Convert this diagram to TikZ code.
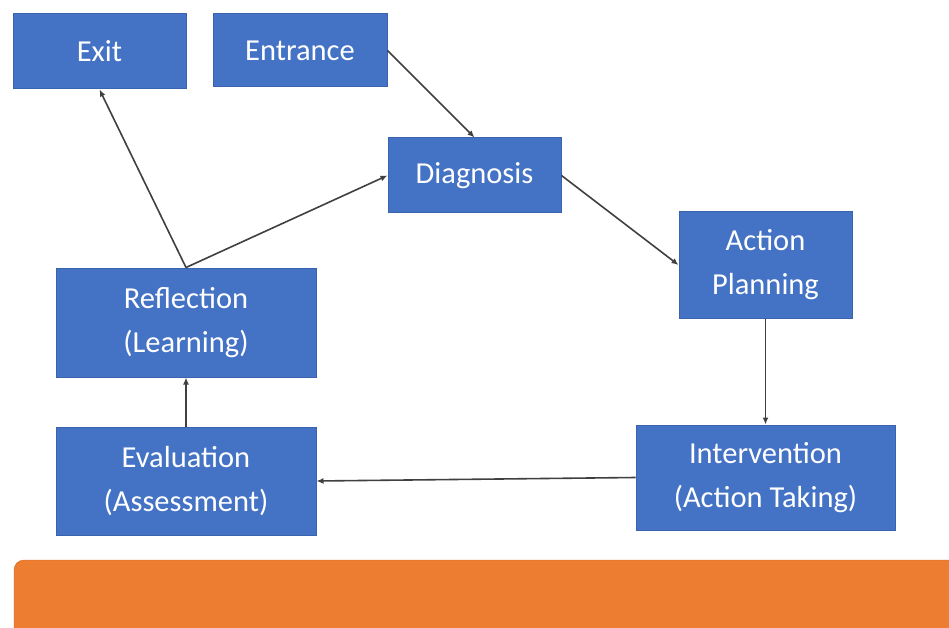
\documentclass[tikz,border=0pt]{standalone}
\usepackage{fontspec}
\setmainfont{Carlito}
\usepackage{tikz}
\usetikzlibrary{arrows.meta}
\definecolor{boxblue}{HTML}{4472C4}
\definecolor{boxedge}{HTML}{3A63AE}
\definecolor{barorange}{HTML}{ED7D31}
\definecolor{lineg}{rgb}{0.25,0.25,0.25}

\begin{document}
\begin{tikzpicture}[x=1pt, y=-1pt, box/.style = {shape=rectangle, draw=boxedge, line width=1pt, align=center, fill=boxblue, text=white, font=\fontsize{30.5}{44}\selectfont, inner sep=0pt}, link/.style = {draw=lineg, line width=1.6pt, -{Latex[length=7pt,width=6pt]}}]
	\useasboundingbox (0,0) rectangle (949,628);
	\fill[white] (0,0) rectangle (949,628);
	\node[box, minimum width=173pt, minimum height=75pt] (exit) at (99.5,51.5) {Exit};
	\node[box, minimum width=174pt, minimum height=73pt] (entr) at (300,50.5) {Entrance};
	\node[box, minimum width=173pt, minimum height=75pt] (diag) at (474.5,175.5) {Diagnosis};
	\node[box, minimum width=173pt, minimum height=106pt] (plan) at (765.5,265) {Action\\Planning};
	\node[box, minimum width=260pt, minimum height=109pt] (refl) at (186,322.5) {Reflection\\(Learning)};
	\node[box, minimum width=260pt, minimum height=108pt] (eval) at (186,481) {Evaluation\\(Assessment)};
	\node[box, minimum width=259pt, minimum height=105pt] (intv) at (765.5,477.5) {Intervention\\(Action Taking)};
	\draw[link] (entr.east) -- (diag.north);
	\draw[link] (diag.east) -- (plan.west);
	\draw[link] (plan.south) -- (intv.north);
	\draw[link] (intv.west) -- (eval.east);
	\draw[link] (eval.north) -- (refl.south);
	\draw[link] (refl.north) -- (diag.west);
	\draw[link] (refl.north) -- (exit.south);
	% orange bar at the bottom
	\draw[barorange!85!black, fill=barorange, rounded corners=10pt] (14,560) rectangle (975,650);
\end{tikzpicture}
\end{document}
